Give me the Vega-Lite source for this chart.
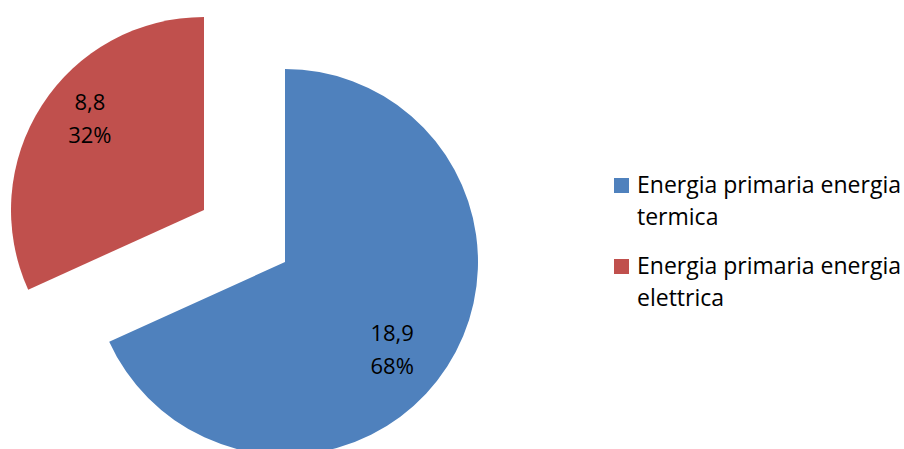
{
  "$schema": "https://vega.github.io/schema/vega-lite/v6.json",
  "width": 570,
  "height": 374,
  "autosize": "none",
  "padding": {"left": 0, "top": 75, "right": 334, "bottom": 0},
  "background": "white",
  "config": {"view": {"stroke": null}, "style": {"guide-label": {"lineHeight": 32}}},
  "data": {
    "values": [
      {"fonte": "Energia primaria energia termica", "valore": 18.9, "etichetta": "18,9\n68%", "ordine": 1},
      {"fonte": "Energia primaria energia elettrica", "valore": 8.8, "etichetta": "8,8\n32%", "ordine": 2}
    ]
  },
  "encoding": {
    "theta": {"field": "valore", "type": "quantitative", "stack": true},
    "order": {"field": "ordine", "type": "quantitative"}
  },
  "layer": [
    {
      "mark": {"type": "arc", "radius": 193},
      "encoding": {
        "color": {
          "field": "fonte", "type": "nominal",
          "scale": {"domain": ["Energia primaria energia termica", "Energia primaria energia elettrica"], "range": ["#4F81BD", "#C0504D"]},
          "legend": {
            "title": null, "orient": "none", "legendX": 610, "legendY": 99,
            "symbolType": "square", "symbolSize": 225, "symbolStrokeWidth": 0,
            "labelFont": "Open Sans", "labelFontSize": 23, "labelColor": "#000000",
            "labelLimit": 400, "labelOffset": 4, "rowPadding": 25,
            "labelExpr": "[slice(datum.label, 0, 24), slice(datum.label, 25)]"
          }
        },
        "opacity": {"condition": {"test": "datum.ordine == 1", "value": 1}, "value": 0}
      }
    },
    {
      "mark": {"type": "arc", "radius": 193, "xOffset": -81, "yOffset": -52},
      "encoding": {
        "color": {"field": "fonte", "type": "nominal"},
        "opacity": {"condition": {"test": "datum.ordine == 2", "value": 1}, "value": 0}
      }
    },
    {
      "mark": {"type": "text", "radius": 137, "thetaOffset": 0.1, "dy": -13, "font": "Open Sans", "fontSize": 22, "lineHeight": 33, "lineBreak": "\n", "align": "center", "baseline": "middle", "color": "#000000"},
      "encoding": {
        "text": {"field": "etichetta", "type": "nominal"},
        "opacity": {"condition": {"test": "datum.ordine == 1", "value": 1}, "value": 0}
      }
    },
    {
      "mark": {"type": "text", "radius": 146, "thetaOffset": 0.1, "dy": -16, "xOffset": -81, "yOffset": -52, "font": "Open Sans", "fontSize": 22, "lineHeight": 33, "lineBreak": "\n", "align": "center", "baseline": "middle", "color": "#000000"},
      "encoding": {
        "text": {"field": "etichetta", "type": "nominal"},
        "opacity": {"condition": {"test": "datum.ordine == 2", "value": 1}, "value": 0}
      }
    }
  ]
}
